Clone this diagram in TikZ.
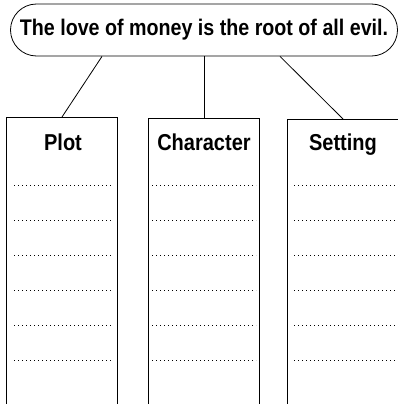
\documentclass[tikz,border=0pt]{standalone}
\usepackage{fontspec}
\setmainfont{Liberation Sans}[FakeStretch=0.87]
\usepackage{tikz}
\newcommand{\drawtheme}{\node[draw,rounded corners=26pt,minimum width=387pt,minimum height=52pt,inner sep=0,font=\fontsize{22.6}{24}\bfseries\selectfont]}
\newcommand{\drawcol}{\node[draw,rectangle,anchor=north,minimum width=111pt,minimum height=320pt,inner sep=0]}
\newcommand{\drawtitle}{\node[anchor=base,inner sep=0,font=\fontsize{23}{24}\bfseries\selectfont]}
\tikzset{writeline/.style={line width=0.9pt,dash pattern=on 0.9pt off 3.1pt}}

\begin{document}
\begin{tikzpicture}[x=1pt, y=-1pt, line width=0.8pt]
\useasboundingbox (0,0) rectangle (398,404);
\clip (0,0) rectangle (398,404);
%theme on top
\drawtheme (theme) at (204,30) {The love of money is the root of all evil.};

%three columns
\drawcol (plot) at (62,117) {};
\drawcol (character) at (204,118) {};
\drawcol (setting) at (343,119) {};

\drawtitle (plotT) at (63,150) {Plot};
\drawtitle (characterT) at (204,150) {Character};
\drawtitle (settingT) at (343,150) {Setting};

\draw[-] ([xshift=-102pt]theme.south) to (plot.north);
\draw[-] (theme.south) to (character.north);
\draw[-] ([xshift=76pt]theme.south) to (setting.north);

%writing lines
\foreach \y in {185,220,...,360} {
  \draw[writeline] (14,\y) -- (112,\y);
  \draw[writeline] (152,\y) -- (256,\y);
  \draw[writeline] (294,\y) -- (395,\y);
}
\end{tikzpicture}
\end{document}
